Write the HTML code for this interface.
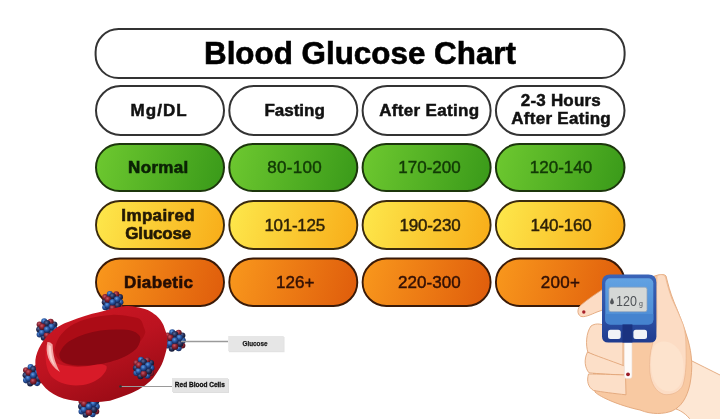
<!DOCTYPE html>
<html><head><meta charset="utf-8">
<style>
html,body{margin:0;padding:0;background:#fff;width:720px;height:419px;overflow:hidden}
svg{display:block;filter:blur(0.3px)}
text{font-family:"Liberation Sans",sans-serif}
</style></head><body>
<svg width="720" height="419" viewBox="0 0 720 419">
<defs>
<linearGradient id="gG" x1="0" y1="0.45" x2="1" y2="0.55">
<stop offset="0" stop-color="#6cc72f"/><stop offset="1" stop-color="#3b9b1a"/></linearGradient>
<linearGradient id="gY" x1="0" y1="0.45" x2="1" y2="0.55">
<stop offset="0" stop-color="#fde64a"/><stop offset="1" stop-color="#f8ae1a"/></linearGradient>
<linearGradient id="gO" x1="0" y1="0.45" x2="1" y2="0.55">
<stop offset="0" stop-color="#f8961c"/><stop offset="1" stop-color="#e05e0c"/></linearGradient>
</defs>
<rect width="720" height="419" fill="#fff"/>
<!-- title -->
<rect x="95.6" y="29" width="529" height="49.1" rx="23" fill="#fff" stroke="#333" stroke-width="2"/>
<text x="360" y="64" text-anchor="middle" font-weight="bold" font-size="31" textLength="312" lengthAdjust="spacingAndGlyphs" fill="#000" stroke="#000" stroke-width="0.6">Blood Glucose Chart</text>
<!-- header row -->
<g fill="#fff" stroke="#333" stroke-width="2">
<rect x="96" y="86" width="128" height="49" rx="24.5"/>
<rect x="229.3" y="86" width="128" height="49" rx="24.5"/>
<rect x="362.6" y="86" width="128" height="49" rx="24.5"/>
<rect x="495.9" y="86" width="128.6" height="49" rx="24.5"/>
</g>
<g font-weight="bold" font-size="17" fill="#111" stroke="#111" stroke-width="0.5" text-anchor="middle" lengthAdjust="spacingAndGlyphs">
<text x="158.6" y="116.3" textLength="56">Mg/DL</text>
<text x="294.6" y="116.2" textLength="60.4">Fasting</text>
<text x="429.2" y="116.3" textLength="100">After Eating</text>
<text x="560.8" y="106.3" textLength="80">2-3 Hours</text>
<text x="561" y="124.3" textLength="99.5">After Eating</text>
</g>
<!-- green row -->
<g fill="url(#gG)" stroke="#1c360c" stroke-width="2">
<rect x="96" y="144" width="128" height="47" rx="23.5"/>
<rect x="229.3" y="144" width="128" height="47" rx="23.5"/>
<rect x="362.6" y="144" width="128" height="47" rx="23.5"/>
<rect x="495.9" y="144" width="128.6" height="47" rx="23.5"/>
</g>
<!-- yellow row -->
<g fill="url(#gY)" stroke="#3a2a0e" stroke-width="1.9">
<rect x="96" y="201" width="128" height="48" rx="24"/>
<rect x="229.3" y="201" width="128" height="48" rx="24"/>
<rect x="362.6" y="201" width="128" height="48" rx="24"/>
<rect x="495.9" y="201" width="128.6" height="48" rx="24"/>
</g>
<!-- orange row -->
<g fill="url(#gO)" stroke="#3a1a08" stroke-width="1.9">
<rect x="96" y="258.5" width="128" height="47.5" rx="23.75"/>
<rect x="229.3" y="258.5" width="128" height="47.5" rx="23.75"/>
<rect x="362.6" y="258.5" width="128" height="47.5" rx="23.75"/>
<rect x="495.9" y="258.5" width="128.6" height="47.5" rx="23.75"/>
</g>
<g font-weight="bold" font-size="17" text-anchor="middle" lengthAdjust="spacingAndGlyphs">
<text x="158.2" y="172.8" textLength="60.3" fill="#0b2205" stroke="#0b2205" stroke-width="0.6">Normal</text>
<text x="158" y="221.2" textLength="73.3" fill="#231905" stroke="#231905" stroke-width="0.6">Impaired</text>
<text x="158.3" y="239.2" textLength="66" fill="#231905" stroke="#231905" stroke-width="0.6">Glucose</text>
<text x="158.5" y="287.6" textLength="69" fill="#240d04" stroke="#240d04" stroke-width="0.6">Diabetic</text>
</g>
<g font-size="17" text-anchor="middle" lengthAdjust="spacingAndGlyphs" stroke-width="0.45">
<g fill="#123a06" stroke="#123a06">
<text x="294.5" y="173.1" textLength="54.4">80-100</text>
<text x="429.5" y="173.2" textLength="62.3">170-200</text>
<text x="561" y="173.2" textLength="62.4">120-140</text>
</g>
<g fill="#2e2208" stroke="#2e2208">
<text x="294.75" y="230.9" textLength="60.7">101-125</text>
<text x="430" y="230.9" textLength="61.2">190-230</text>
<text x="561.1" y="231" textLength="61.1">140-160</text>
</g>
<g fill="#331005" stroke="#331005">
<text x="295.2" y="287.6" textLength="38.4">126+</text>
<text x="429.3" y="287.7" textLength="62.6">220-300</text>
<text x="560.4" y="287.7" textLength="39.3">200+</text>
</g>
</g>


<!-- ===== RED BLOOD CELL ===== -->
<defs>
<radialGradient id="sb" cx="0.4" cy="0.35" r="0.65"><stop offset="0" stop-color="#66a0e2"/><stop offset="0.45" stop-color="#2c5caa"/><stop offset="1" stop-color="#122456"/></radialGradient>
<radialGradient id="sr" cx="0.4" cy="0.35" r="0.65"><stop offset="0" stop-color="#c85a66"/><stop offset="0.5" stop-color="#8a2232"/><stop offset="1" stop-color="#4a0e18"/></radialGradient>
<radialGradient id="sd" cx="0.4" cy="0.35" r="0.65"><stop offset="0" stop-color="#5a6a9a"/><stop offset="0.5" stop-color="#26305a"/><stop offset="1" stop-color="#10142c"/></radialGradient>
<g id="molc" transform="scale(0.92)">
<circle r="10" fill="#1a2040"/>
<circle cx="-8" cy="-5.5" r="3.3" fill="url(#sr)"/>
<circle cx="8" cy="-5.5" r="3.3" fill="url(#sd)"/>
<circle cx="-8" cy="5.5" r="3.3" fill="url(#sb)"/>
<circle cx="8" cy="5.5" r="3.3" fill="url(#sr)"/>
<circle cx="-3.5" cy="9" r="3.3" fill="url(#sd)"/>
<circle cx="-3" cy="-9" r="3.3" fill="url(#sb)"/>
<circle cx="4" cy="-8.5" r="3.3" fill="url(#sr)"/>
<circle cx="4" cy="8.5" r="3.3" fill="url(#sb)"/>
<circle cx="-8.5" cy="0" r="3.3" fill="url(#sd)"/>
<circle cx="8.5" cy="0" r="3.3" fill="url(#sb)"/>
<circle cx="-5.5" cy="3.5" r="3.6" fill="url(#sb)"/>
<circle cx="5.5" cy="3.5" r="3.6" fill="url(#sd)"/>
<circle cx="0" cy="-6.5" r="3.6" fill="url(#sd)"/>
<circle cx="0" cy="6.5" r="3.6" fill="url(#sr)"/>
<circle cx="-5" cy="-3" r="3.6" fill="url(#sr)"/>
<circle cx="5" cy="-3" r="3.6" fill="url(#sb)"/>
<circle cx="0" cy="0" r="3.6" fill="url(#sb)"/>
</g>
</defs>
<g id="molback">
<use href="#molc" x="112.6" y="302.2"/>
<use href="#molc" x="47" y="329.5"/>
<use href="#molc" x="175" y="340.5"/>
<use href="#molc" x="33.4" y="375.3"/>
<use href="#molc" x="88.9" y="406.5"/>
</g>
<g id="rbc">
<defs>
<linearGradient id="gRbc" x1="0.2" y1="0.05" x2="0.75" y2="1">
<stop offset="0" stop-color="#cc1622"/><stop offset="0.45" stop-color="#bc1320"/><stop offset="1" stop-color="#960a14"/></linearGradient>
</defs>
<path d="M35.4,360 C36.5,350 44,338 51.6,332 C58,326 64,323.5 69.4,321.6 C80,317 90,314 99,312.2 C106,310.5 115,307.5 123.8,306.3 C128,305.8 132,306 135.8,306.9 C140,307.6 144,308.5 147.7,309.9 C151,311.5 153.5,313.2 156,315.3 C158.5,317.5 160.5,320 162,322.4 C163.5,324.8 164.4,327.2 165,329.6 C166,332 166.8,335 167.2,338 C167.6,344 166.8,349 165.5,353.3 C164,359 162.5,363.5 160.1,367.6 C157.5,372 155.5,375 153,378.3 C149.5,382 146,385 142.2,387.3 C137.5,390.5 133,392.5 127.9,394.4 C122,396.8 116,398.8 110,400.7 C102,402 95,402 87.1,401.8 C78,401.5 70,400.5 63.5,398.6 C56,396 50,392.5 45.7,388.2 C41,383 38,378 36.8,373.4 C35.6,368 35.2,364 35.4,360 Z" fill="url(#gRbc)"/>
<path d="M54.5,350 C56,342 59,336 63,332.4 C70,325 78,321.5 86.8,319 C95,316.5 104,315.3 111.9,314.9 C118,314.6 124,315.5 129.8,316.5 C134,317.2 137.5,317.8 139.3,318.8 C141.5,320.5 142.5,322.5 142.9,324.8 C143.8,327.5 145,330 145.3,332 C144,338 139,343.5 133,348 C127,352.5 121,356 115.2,359 C108,362.5 101,364.5 95.2,365.7 C88,367 81,367 75.1,366.5 C68,365 63,363 60.2,360.5 C56.5,357.5 54.6,354 54.5,350 Z" fill="#ac0c16"/>
<path d="M59.4,353.5 C62,347 67,342 72.5,339.5 C80,335.5 90,332 100.6,330.5 C110,329.3 120,329.3 128.8,330 C134,331 138,333 140,336.6 C141,340 139.5,345 136.3,348.8 C130,355 120,359.5 110,361.9 C100,364.5 90,365.8 81.9,365.6 C73,365.2 67,364 63,361.9 C60,359.5 59,356 59.4,352.5 Z" fill="#8a0812"/>
<path d="M46,346 C48,356 53,362 60,364.5 C70,367 82,367.5 94,365 C99,364 103,363.5 106.5,366 C107.5,369 105,373 101,377 C95,382 86,385.5 76,385.5 C66,385.5 57,382 51,376 C46.5,370 44.5,360 46,346 Z" fill="#d81a28"/>
<path d="M47.4,342 C45,352 48,364.5 60,372 C55.5,364 52.8,355 52.6,344.5 C51,342.5 49,341.8 47.4,342 Z" fill="#f4a4a2"/><path d="M48.6,345 C47.8,353 50,361 55,366 C52.5,360 51,353 50.8,346 Z" fill="#fcd0cc"/>
</g>


<use href="#molc" x="143.7" y="368"/>
<!-- labels -->
<line x1="181" y1="341.5" x2="228" y2="341.5" stroke="#9a9a9a" stroke-width="1.4"/>
<line x1="120" y1="386.5" x2="173" y2="386.5" stroke="#9a9a9a" stroke-width="1.2"/>
<circle cx="120.5" cy="386.5" r="1.3" fill="#333"/>
<rect x="229" y="337" width="55.5" height="15.2" fill="#cfcfcf" opacity="0.6"/><rect x="228.2" y="336" width="55.5" height="15.2" fill="#e6e6e6"/>
<rect x="173" y="379" width="56" height="14" fill="#c8c8c8" opacity="0.6"/><rect x="172" y="378" width="56" height="14" fill="#e4e4e4"/>
<text x="255" y="345.6" font-size="6.5" font-weight="bold" text-anchor="middle" textLength="25" lengthAdjust="spacingAndGlyphs" fill="#1a1a1a" stroke="#1a1a1a" stroke-width="0.25">Glucose</text>
<text x="199.8" y="387.2" font-size="6.5" font-weight="bold" text-anchor="middle" textLength="50" lengthAdjust="spacingAndGlyphs" fill="#111" stroke="#111" stroke-width="0.3">Red Blood Cells</text>

<!-- ===== HAND + METER ===== -->
<defs>
<linearGradient id="gFace" x1="0" y1="0" x2="0" y2="1">
<stop offset="0" stop-color="#62a2e2"/><stop offset="1" stop-color="#4a8ad4"/></linearGradient>
<linearGradient id="gFrame" x1="0" y1="0" x2="0" y2="1">
<stop offset="0" stop-color="#3a64b8"/><stop offset="0.7" stop-color="#2a4ca0"/><stop offset="1" stop-color="#1f3b8e"/></linearGradient>
</defs>
<g id="hand" stroke="#e2a679" stroke-width="0.9" stroke-linejoin="round">
<path d="M686,358 C698,364 710,370 724,377 L724,424 L693,424 C689,416 682,411 676,409 C684,398 688,385 688,370 Z" fill="#fde7d4"/>
<path d="M658,275 C662,274 665,274.5 666,276 C668,284 670,292 674,302 C679,314 684,326 688,340 C692,354 693,368 690,384 C687,398 681,407 672,411 C664,414 652,415 640,410 C630,408 618,404 611,401 C604,398 598,395 595,392 L590,332 L603,324 L603,300 C620,290 640,280 658,275 Z" fill="#f8c9a2"/>
<path d="M657,276 C660,274 664,274 665.5,277 C667,284 669,291 672,299 C676,308 680,316 683.3,324.8 C685.5,332 686,340 686,348 C686.5,362 686,375 683,385 C680,392 672,395.5 664,394.5 C656,392 651,384 649.8,372 C649,362 650,352 652.5,344 C655,336 657,328 657,318 C657,305 656,290 657,276 Z" fill="#fcdcc4" stroke="#eab48e" stroke-width="0.7"/>
<path d="M654,346 C660,338 676,340 682,356 C686,372 683,388 672,391 C661,393 653,384 651.5,371 C650.5,361 651,352 654,346 Z" fill="#fde3cd" stroke="none"/>
<path d="M591,326 C596,322.5 604,323.5 608,329 L623,338 L623,366.5 C610,362.5 597,357 588,352.5 C585.5,345 586,333 591,326 Z" fill="#fcdfc8"/>
<path d="M587.5,352 C595,355.5 610,360.5 624.5,366 L624.5,375 C612,374.5 598,373.8 589,372.8 C585,368 583.5,360 587.5,352 Z" fill="#fcdfc8"/>
<path d="M588.5,374 C598,374 612,374.5 625.5,375 L626,394.8 C614,393.5 602,392 593.4,390.4 C588,387 586.5,381 588.5,374 Z" fill="#fcdfc8"/>
<path d="M604,288.5 C597,293 588,299 581,305 C577,308.5 577,314 580.5,316.2 C584,318 591,314.5 597,312 L604,309.5 Z" fill="#fcdcc4"/>
</g>
<circle cx="583.8" cy="312" r="1.7" fill="#a8202a"/>
<!-- test strip -->
<path d="M624.2,340 L632,340 L632,376 Q632,378.5 629.5,378.5 L626.7,378.5 Q624.2,378.5 624.2,376 Z" fill="#fdfbfa" stroke="#ecd8cc" stroke-width="0.6"/>
<circle cx="628" cy="374.3" r="1.9" fill="#9a1c28"/>
<!-- meter -->
<path d="M610,274.5 L648.4,274.5 Q656.4,274.5 656.4,282.5 L656.4,336.5 Q656.4,342.5 650,342.5 L608.5,342.5 Q602,342.5 602,336.5 L602,282.5 Q602,274.5 610,274.5 Z" fill="url(#gFrame)"/>
<rect x="605.3" y="278.2" width="48" height="46.2" rx="5" fill="url(#gFace)"/>
<path d="M605.3,314 L653.3,314 L653.3,319.4 Q653.3,324.4 648.3,324.4 L610.3,324.4 Q605.3,324.4 605.3,319.4 Z" fill="#4583cf"/>
<rect x="608.9" y="287.2" width="38.1" height="24.5" rx="2" fill="#d5d8d6" stroke="#8fa2b8" stroke-width="0.7"/>
<rect x="622.5" y="324.4" width="9.9" height="18.1" fill="#1a3280"/>
<rect x="608" y="329.8" width="12.7" height="9.1" rx="2.5" fill="#f1f3f7"/>
<rect x="633.4" y="329.8" width="13.6" height="9.1" rx="2.5" fill="#f1f3f7"/>
<path d="M612,297.8 C613.2,300 613.9,301.2 613.9,302.4 C613.9,303.5 613,304.2 612,304.2 C611,304.2 610.1,303.5 610.1,302.4 C610.1,301.2 610.8,300 612,297.8 Z" fill="#505458"/>
<text x="626.5" y="305.5" font-size="14" text-anchor="middle" textLength="20.9" lengthAdjust="spacingAndGlyphs" fill="#505458">120</text>
<text x="640.9" y="305.5" font-size="7" text-anchor="middle" fill="#505458">g</text>
</svg>
</body></html>
